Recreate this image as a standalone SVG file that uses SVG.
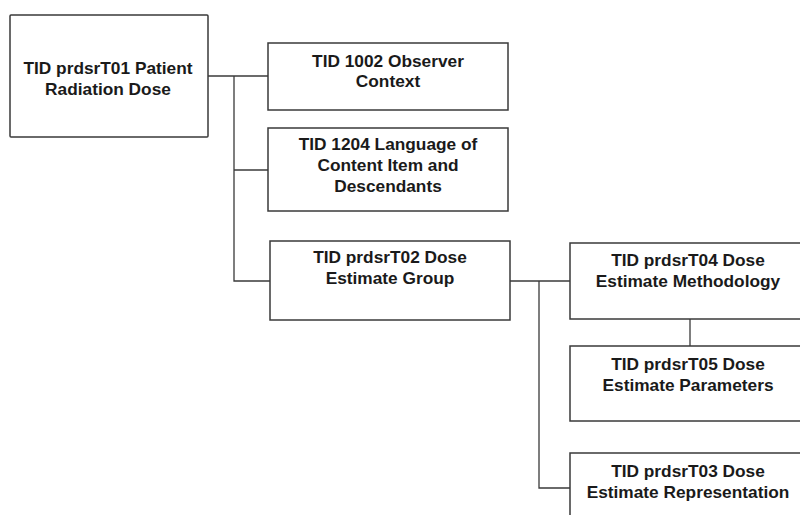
<svg xmlns="http://www.w3.org/2000/svg" width="800" height="515" viewBox="0 0 800 515">
<style>
.box{fill:#fff;stroke:#3a3a3a;stroke-width:1.5}
.t{font-family:"Liberation Sans",Arial,sans-serif;font-weight:bold;font-size:17.3px;fill:#1a1a1a;text-anchor:middle}
.c{fill:none;stroke:#3a3a3a;stroke-width:1.3}
</style>
<rect width="800" height="515" fill="#fff"/>
<g id="connectors">
<polyline class="c" points="208,76 268,76"/>
<polyline class="c" points="234,76 234,281 270,281"/>
<polyline class="c" points="234,170 268,170"/>
<polyline class="c" points="510,281 570,281"/>
<polyline class="c" points="539,281 539,488 570,488"/>
<polyline class="c" points="690,319 690,346"/>
</g>
<g id="n_t01">
<rect class="box" x="10" y="15" width="198" height="122" rx="1"/>
<text class="t" x="108" y="74">TID prdsrT01 Patient</text>
<text class="t" x="108" y="95">Radiation Dose</text>
</g>
<g id="n_1002">
<rect class="box" x="268" y="43" width="240" height="67"/>
<text class="t" x="388" y="67">TID 1002 Observer</text>
<text class="t" x="388" y="87">Context</text>
</g>
<g id="n_1204">
<rect class="box" x="268" y="128" width="240" height="83"/>
<text class="t" x="388" y="150">TID 1204 Language of</text>
<text class="t" x="388" y="171">Content Item and</text>
<text class="t" x="388" y="192">Descendants</text>
</g>
<g id="n_t02">
<rect class="box" x="270" y="241" width="240" height="79"/>
<text class="t" x="390" y="263">TID prdsrT02 Dose</text>
<text class="t" x="390" y="284">Estimate Group</text>
</g>
<g id="n_t04">
<rect class="box" x="570" y="243" width="240" height="76"/>
<text class="t" x="688" y="266">TID prdsrT04 Dose</text>
<text class="t" x="688" y="287">Estimate Methodology</text>
</g>
<g id="n_t05">
<rect class="box" x="570" y="346" width="240" height="75"/>
<text class="t" x="688" y="370">TID prdsrT05 Dose</text>
<text class="t" x="688" y="391">Estimate Parameters</text>
</g>
<g id="n_t03">
<rect class="box" x="570" y="453" width="240" height="80"/>
<text class="t" x="688" y="477">TID prdsrT03 Dose</text>
<text class="t" x="688" y="498">Estimate Representation</text>
</g>
</svg>
